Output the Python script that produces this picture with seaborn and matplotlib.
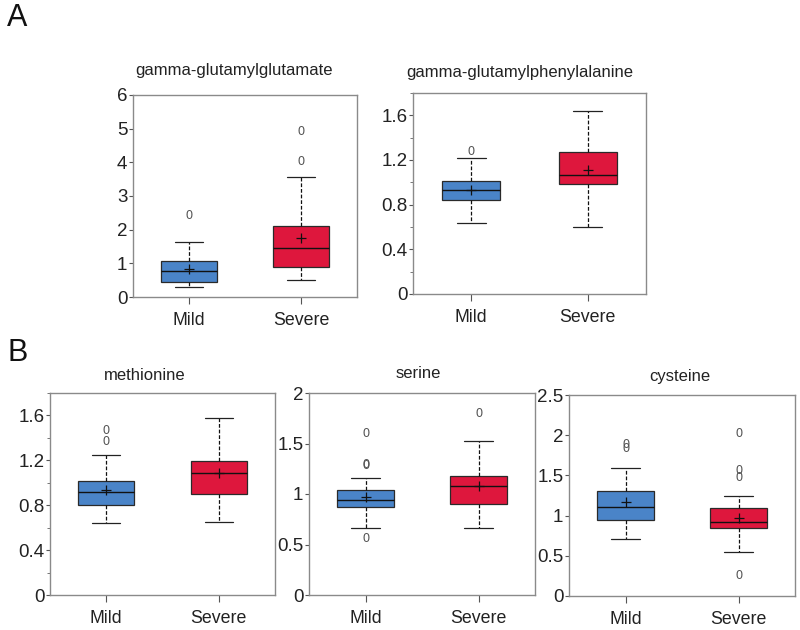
import matplotlib
matplotlib.use("Agg")
import matplotlib.pyplot as plt
import seaborn as sns
import pandas as pd
from matplotlib.ticker import MultipleLocator, FuncFormatter

groups = ["Mild", "Severe"]
colors = ["#4A84C8", "#DE173D"]

# box stats: [whisker low, Q1, median, Q3, whisker high]
ggg_mild = [0.30, 0.46, 0.78, 1.07, 1.62]
ggg_severe = [0.51, 0.88, 1.45, 2.10, 3.57]
ggg_mean = [0.82, 1.74]
ggg_out_mild = [2.46]
ggg_out_severe = [4.06, 4.97]

ggp_mild = [0.64, 0.84, 0.93, 1.01, 1.22]
ggp_severe = [0.60, 0.985, 1.066, 1.275, 1.64]
ggp_mean = [0.934, 1.113]
ggp_out_mild = [1.29]
ggp_out_severe = []

met_mild = [0.638, 0.799, 0.918, 1.013, 1.248]
met_severe = [0.653, 0.903, 1.091, 1.192, 1.573]
met_mean = [0.933, 1.088]
met_out_mild = [1.383, 1.481]
met_out_severe = []

ser_mild = [0.661, 0.869, 0.936, 1.035, 1.160]
ser_severe = [0.661, 0.899, 1.078, 1.180, 1.527]
ser_mean = [0.969, 1.084]
ser_out_mild = [0.575, 1.30, 1.31, 1.61]
ser_out_severe = [1.812]

cys_mild = [0.710, 0.947, 1.109, 1.304, 1.586]
cys_severe = [0.552, 0.843, 0.922, 1.096, 1.25]
cys_mean = [1.163, 0.976]
cys_out_mild = [1.848, 1.898]
cys_out_severe = [0.278, 1.495, 1.574, 2.039]

titles = ["gamma-glutamylglutamate", "gamma-glutamylphenylalanine",
          "methionine", "serine", "cysteine"]
ylims = [6, 1.8, 1.8, 2, 2.5]
ymajor = [1, 0.4, 0.4, 0.5, 0.5]
yminor = [None, 0.2, 0.2, None, None]

panels = [
    (ggg_mild, ggg_severe, ggg_mean, ggg_out_mild, ggg_out_severe),
    (ggp_mild, ggp_severe, ggp_mean, ggp_out_mild, ggp_out_severe),
    (met_mild, met_severe, met_mean, met_out_mild, met_out_severe),
    (ser_mild, ser_severe, ser_mean, ser_out_mild, ser_out_severe),
    (cys_mild, cys_severe, cys_mean, cys_out_mild, cys_out_severe),
]

sns.set_style("white")
plt.rcParams["font.family"] = ["Liberation Sans", "DejaVu Sans"]

W, H = 800, 630
fig = plt.figure(figsize=(8, 6.3), dpi=100)

# axes boxes in pixels: left, right, top, bottom
boxes = [(133, 357, 95, 297), (413, 646, 93, 294),
         (50, 275, 393, 595), (309, 535, 393, 595), (569, 795, 395, 596)]
title_pos = [(234, 70), (520, 73), (145, 375), (418, 373), (680, 377)]

def fmt(v, pos):
    s = f"{v:.1f}"
    if s.endswith(".0"):
        s = s[:-2]
    return s

for i, (stats, box) in enumerate(zip(panels, boxes)):
    mild, severe, means, om, osv = stats
    l, r, t, b = box
    ax = fig.add_axes([l / W, 1 - b / H, (r - l) / W, (b - t) / H])
    df = pd.DataFrame({"group": ["Mild"] * 5 + ["Severe"] * 5,
                       "value": list(mild) + list(severe)})
    sns.boxplot(data=df, x="group", y="value", hue="group", order=groups,
                hue_order=groups, palette=colors, saturation=1, width=0.5,
                whis=(0, 100), linecolor="#2a2a2a", linewidth=0.9,
                legend=False, ax=ax,
                whiskerprops={"linestyle": (0, (3, 1.5)), "color": "#111"},
                capprops={"color": "#222"},
                medianprops={"color": "#111", "linewidth": 1.0})
    out_df = pd.DataFrame({"group": ["Mild"] * len(om) + ["Severe"] * len(osv),
                           "value": list(om) + list(osv)})
    if len(out_df):
        sns.stripplot(data=out_df, x="group", y="value", order=groups,
                      jitter=False, marker="$0$", color="#555555", size=6.5,
                      linewidth=0, ax=ax)
    mean_df = pd.DataFrame({"group": groups, "value": means})
    sns.stripplot(data=mean_df, x="group", y="value", order=groups,
                  jitter=False, marker="+", color="#111111", size=7,
                  linewidth=0.9, ax=ax)
    ax.set_xlim(-0.5, 1.5)
    ax.set_ylim(0, ylims[i])
    ax.yaxis.set_major_locator(MultipleLocator(ymajor[i]))
    ax.yaxis.set_major_formatter(FuncFormatter(fmt))
    if yminor[i]:
        ax.yaxis.set_minor_locator(MultipleLocator(yminor[i]))
    ax.set_xlabel("")
    ax.set_ylabel("")
    for s in ax.spines.values():
        s.set_color("#8a8a8a")
        s.set_linewidth(1.0)
        s.set_visible(True)
    ax.tick_params(axis="y", which="major", direction="out", length=3,
                   width=0.8, color="#555555", labelsize=13.5,
                   labelcolor="#222222", left=True, pad=1)
    ax.tick_params(axis="y", which="minor", direction="out", length=2.5,
                   width=0.7, color="#777777", left=True)
    ax.tick_params(axis="x", which="major", direction="out", length=5,
                   width=0.8, color="#555555", labelsize=12.8,
                   labelcolor="#222222", bottom=True, pad=6)
    tx, ty = title_pos[i]
    fig.text(tx / W, 1 - ty / H, titles[i], ha="center", va="center",
             fontsize=12, color="#222222")

fig.text(7 / W, 1 - 18 / H, "A", fontsize=22, ha="left", va="center",
         color="#111111")
fig.text(7 / W, 1 - 353 / H, "B", fontsize=22, ha="left", va="center",
         color="#111111")

fig.savefig("out.png", dpi=100)
